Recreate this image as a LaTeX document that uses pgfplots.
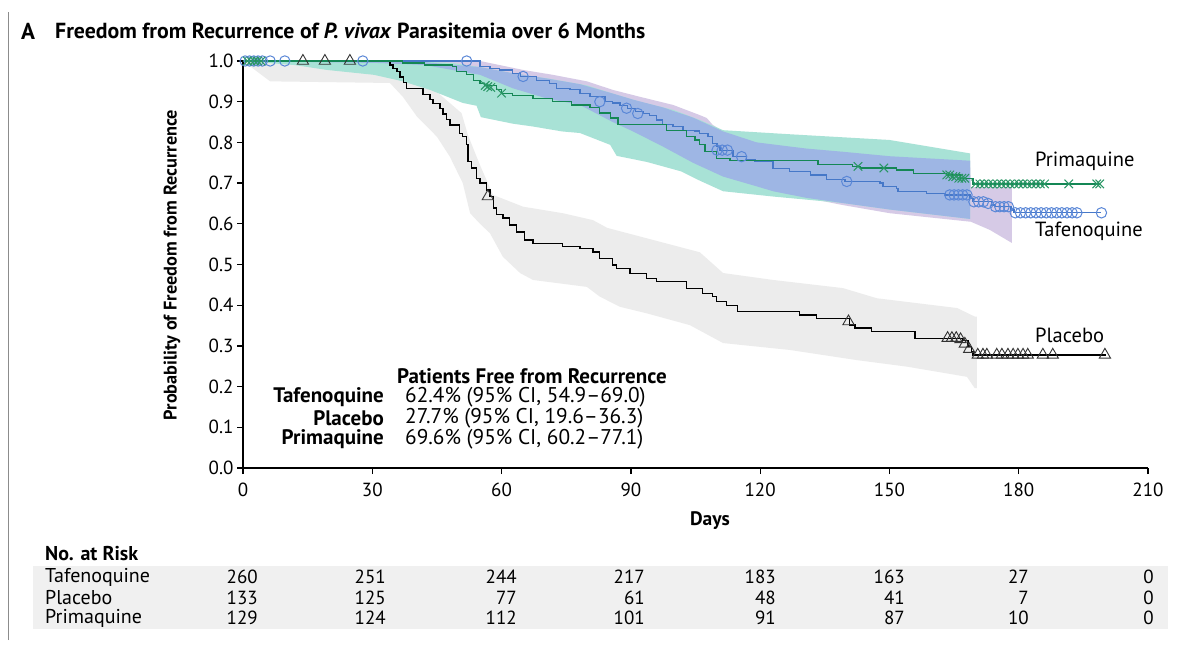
\documentclass[border=0pt]{standalone}
\usepackage{fontspec}
\setmainfont{PT Sans}
\usepackage{pgfplots}
\pgfplotsset{compat=1.18}
\definecolor{grayband}{RGB}{236,236,236}
\definecolor{purpleband}{RGB}{214,202,230}
\definecolor{tealband}{RGB}{168,226,214}
\definecolor{blueband}{RGB}{158,182,228}
\definecolor{tafline}{RGB}{70,120,200}
\definecolor{tafmark}{RGB}{90,135,215}
\definecolor{primline}{RGB}{20,135,85}
\definecolor{primmark}{RGB}{40,150,100}
\definecolor{tablebg}{RGB}{240,240,240}
\newcommand{\fs}[1]{\fontsize{#1}{#1}\selectfont}
\begin{document}
\begin{tikzpicture}
\useasboundingbox (0pt,0pt) rectangle (1204pt,646pt);
\fill[white] (0pt,0pt) rectangle (1204pt,646pt);
\draw[black!45, line width=1pt] (8pt,6pt) -- (8pt,634pt);
\node[anchor=west, inner sep=0pt, font=\fs{23}\bfseries] at (21pt,615pt) {A};
\node[anchor=west, inner sep=0pt, font=\fs{21.8}\bfseries] at (55pt,615pt) {Freedom from Recurrence of \textit{P. vivax} Parasitemia over 6 Months};
\node[rotate=90, font=\fs{18.3}\bfseries] at (172pt,381pt) {Probability of Freedom from Recurrence};
\node[font=\fs{19.5}\bfseries] at (710pt,125pt) {Days};
% annotations
\node[anchor=west, inner sep=0pt, font=\fs{20.5}] at (1035pt,485pt) {Primaquine};
\node[anchor=west, inner sep=0pt, font=\fs{20.5}] at (1035pt,415pt) {Tafenoquine};
\node[anchor=west, inner sep=0pt, font=\fs{20.5}] at (1035pt,311pt) {Placebo};
% inner block
\node[anchor=west, inner sep=0pt, font=\fs{21}\bfseries] at (397pt,270pt) {Patients Free from Recurrence};
\node[anchor=east, inner sep=0pt, font=\fs{21}\bfseries] at (384pt,249pt) {Tafenoquine};
\node[anchor=east, inner sep=0pt, font=\fs{21}\bfseries] at (384pt,228pt) {Placebo};
\node[anchor=east, inner sep=0pt, font=\fs{21}\bfseries] at (384pt,207pt) {Primaquine};
\node[anchor=west, inner sep=0pt, font=\fs{21.3}] at (405pt,249pt) {62.4\% (95\% CI, 54.9–69.0)};
\node[anchor=west, inner sep=0pt, font=\fs{21.3}] at (405pt,228pt) {27.7\% (95\% CI, 19.6–36.3)};
\node[anchor=west, inner sep=0pt, font=\fs{21.3}] at (405pt,207pt) {69.6\% (95\% CI, 60.2–77.1)};
% at risk table
\node[anchor=west, inner sep=0pt, font=\fs{20}\bfseries] at (45pt,92pt) {No. at Risk};
\fill[tablebg] (33pt,17pt) rectangle (1168pt,80pt);
\foreach \lab/\yy in {Tafenoquine/69, Placebo/48, Primaquine/28}{
  \node[anchor=west, inner sep=0pt, font=\fs{20}] at (45pt,\yy pt) {\lab};
}
\foreach \xx/\a/\b/\c in {258/260/133/129, 386/251/125/124, 517/244/77/112, 645/217/61/101, 776/183/48/91, 905/163/41/87, 1029/27/7/10, 1154/0/0/0}{
  \node[anchor=east, inner sep=0pt, font=\fs{19}] at (\xx pt,69pt) {\a};
  \node[anchor=east, inner sep=0pt, font=\fs{19}] at (\xx pt,48pt) {\b};
  \node[anchor=east, inner sep=0pt, font=\fs{19}] at (\xx pt,28pt) {\c};
}
\begin{axis}[at={(243pt,178pt)}, anchor=south west,
  width=905pt, height=407pt, scale only axis,
  xmin=0, xmax=210, ymin=0, ymax=1,
  axis lines*=left,
  xtick={0,30,60,90,120,150,180,210},
  ytick={0,0.1,0.2,0.3,0.4,0.5,0.6,0.7,0.8,0.9,1.0},
  tick align=outside, major tick length=6pt,
  axis line style={line width=1.3pt, black},
  tick style={line width=1.3pt, black},
  ticklabel style={font=\fs{19}},
  xticklabel style={yshift=-5pt},
  /pgf/number format/assume math mode=true,
  yticklabel={\pgfmathprintnumber[fixed,fixed zerofill,precision=1]{\tick}},
  clip=false]
% placebo band
\addplot[fill=grayband, draw=none] coordinates {
(0,1.0)(34.1,1.0)(36.4,0.99)(39.9,0.96)(44,0.933)(50.7,0.872)(52.2,0.818)(55,0.744)(58,0.671)(65,0.642)(74.2,0.626)(81.2,0.609)(84.5,0.59)(106,0.53)(111.4,0.479)(123,0.462)(139.2,0.442)(147.1,0.417)(165.7,0.393)(169.8,0.372)(170.3,0.372)
(170.3,0.196)(169.8,0.196)(168,0.224)(154.1,0.249)(142.5,0.265)(126.9,0.29)(111.4,0.307)(103.7,0.351)(93.7,0.38)(87.5,0.396)(82.8,0.421)(79.8,0.445)(67.3,0.462)(64.3,0.479)(60.3,0.519)(57.3,0.577)(55,0.6)(52.7,0.626)(51,0.7)(48,0.765)(45,0.814)(40.4,0.863)(37.1,0.912)(34.1,0.946)(6.3,0.95)(0,1.0)};
% tafenoquine band
\addplot[fill=purpleband, draw=none] coordinates {
(0,1)(55,1)(65,0.978)(71.9,0.966)(79.8,0.95)(85.8,0.929)(92.1,0.912)(99.8,0.892)(106,0.867)(107.6,0.86)(109,0.843)(111.4,0.827)(119.2,0.80)(130.6,0.785)(142.2,0.775)(153.8,0.765)(168.7,0.755)(168.9,0.69)(178.4,0.69)
(178.4,0.553)(173.3,0.585)(168.9,0.605)(150.1,0.626)(139.2,0.646)(123,0.68)(111.4,0.716)(104.4,0.75)(97.4,0.79)(90.5,0.827)(85.8,0.85)(78.2,0.892)(70.5,0.908)(62.6,0.933)(55,0.966)(42.2,0.99)(31.8,0.995)(0,1)};
% primaquine band
\addplot[fill=tealband, draw=none] coordinates {
(0,1)(37.1,1)(48.7,0.995)(55,0.985)(62.6,0.97)(71.9,0.955)(79.8,0.94)(85.8,0.92)(92.1,0.90)(99.8,0.88)(106,0.855)(111.4,0.83)(126.9,0.82)(150,0.806)(168.7,0.773)
(168.7,0.612)(150.1,0.635)(139.2,0.651)(123,0.667)(111.4,0.68)(106,0.706)(101.6,0.729)(93.7,0.752)(86.7,0.767)(85.2,0.794)(78.2,0.823)(74,0.827)(67.3,0.839)(62.6,0.846)(55.2,0.862)(54.2,0.89)(51,0.897)(43.4,0.929)(37.1,0.95)(30.4,0.966)(19.5,0.978)(12,0.99)(0,1)};
% overlap of the two bands
\addplot[fill=blueband, draw=none] coordinates {
(0,1)(31.8,1)(42.2,0.997)(55,0.985)(62.6,0.97)(70.5,0.957)(78.2,0.943)(85.8,0.92)(90.5,0.905)(97.4,0.886)(104.4,0.861)(111.4,0.827)(119.2,0.80)(123,0.795)(130.6,0.785)(139.2,0.777)(150.1,0.766)(168.7,0.755)
(168.7,0.612)(150.1,0.635)(139.2,0.651)(130.6,0.664)(123,0.68)(119.2,0.692)(111.4,0.716)(104.4,0.75)(97.4,0.79)(90.5,0.827)(85.8,0.85)(78.2,0.892)(70.5,0.908)(62.6,0.933)(55,0.966)(42.2,0.99)(31.8,0.995)(0,1)};
% placebo curve
\addplot[const plot, black, line width=1.3pt] coordinates {
(0,1.000)(34.1,0.990)(34.8,0.982)(35.7,0.974)(36.4,0.961)(37.2,0.947)(38.0,0.933)(41.8,0.918)(43.4,0.905)(44.1,0.895)(45.7,0.883)(46.4,0.870)(47.2,0.857)(48.0,0.843)(50.3,0.822)(51.0,0.814)(51.9,0.795)(52.2,0.753)(53.1,0.737)(54.2,0.712)(55.0,0.700)(56.5,0.683)(57.3,0.667)(58.1,0.639)(58.9,0.622)(60.3,0.614)(61.9,0.597)(63.5,0.580)(65.4,0.560)(67.3,0.552)(74.2,0.544)(78.2,0.540)(81.2,0.531)(82.8,0.515)(85.8,0.499)(86.7,0.490)(89.8,0.478)(93.7,0.466)(96.0,0.458)(102.9,0.441)(106.7,0.429)(109.0,0.421)(109.9,0.409)(112.2,0.400)(114.8,0.384)(129.2,0.376)(133.1,0.368)(140.8,0.351)(142.0,0.344)(145.9,0.335)(155.9,0.319)(167.1,0.314)(168.2,0.298)(169.1,0.286)(169.4,0.278)(200.2,0.278)};
% tafenoquine curve
\addplot[const plot, tafline, line width=1.2pt] coordinates {
(0,1.0)(55.0,0.986)(57.3,0.982)(59.6,0.978)(62.6,0.970)(64.3,0.962)(68.1,0.953)(71.2,0.945)(72.8,0.933)(75.9,0.929)(78.2,0.920)(80.5,0.912)(84.0,0.900)(85.8,0.897)(87.5,0.890)(89.3,0.884)(91.0,0.876)(92.8,0.871)(94.4,0.867)(96.0,0.855)(97.4,0.843)(99.8,0.839)(102.1,0.830)(104.9,0.828)(106.0,0.822)(107.9,0.815)(109.0,0.798)(110.0,0.790)(110.7,0.781)(113.7,0.765)(116.9,0.757)(118.8,0.753)(123.0,0.736)(126.9,0.729)(131.6,0.720)(135.4,0.708)(139.7,0.704)(147.8,0.700)(148.5,0.691)(151.7,0.687)(152.0,0.679)(158.6,0.675)(162.9,0.671)(168.7,0.663)(169.4,0.654)(173.7,0.646)(174.5,0.642)(178.2,0.634)(178.9,0.627)(199.2,0.627)};
% primaquine curve
\addplot[const plot, primline, line width=1.2pt] coordinates {
(0,1.0)(37.1,0.995)(42.2,0.990)(48.7,0.986)(49.6,0.974)(51.9,0.966)(53.4,0.953)(55.0,0.945)(56.1,0.940)(58.9,0.929)(60.0,0.921)(62.6,0.916)(67.3,0.908)(71.9,0.900)(76.3,0.892)(80.5,0.885)(82.8,0.872)(85.2,0.860)(87.0,0.843)(98.3,0.830)(102.9,0.814)(104.9,0.806)(106.0,0.794)(107.2,0.778)(109.9,0.761)(113.0,0.755)(133.4,0.745)(141.5,0.741)(143.2,0.737)(151.7,0.732)(155.5,0.724)(163.3,0.720)(166.4,0.712)(169.4,0.698)(198.8,0.698)};
% censor marks
\addplot[only marks, mark=triangle, mark size=6.5pt, black!80, mark options={line width=0.9pt}] coordinates {
(13.9,1.0)(19.0,1.0)(24.8,1.0)(56.8,0.667)(140.5,0.36)(163.5,0.319)(164.5,0.319)(165.5,0.319)(166.5,0.316)(167.5,0.305)(168.5,0.292)
(170.5,0.278)(171.7,0.278)(172.6,0.278)(174.9,0.278)(176.1,0.278)(177.5,0.278)(178.7,0.278)(179.8,0.278)(181.0,0.278)(182.1,0.278)(185.6,0.278)(187.9,0.278)(200.0,0.278)};
\addplot[only marks, mark=o, mark size=5.2pt, tafmark, mark options={line width=1pt}] coordinates {
(0.5,1.0)(1.5,1.0)(2.5,1.0)(3.5,1.0)(4.5,1.0)(6.3,1.0)(9.7,1.0)(27.8,1.0)(51.9,1.0)(65.0,0.962)(82.8,0.900)(89.0,0.884)(91.6,0.871)(110.0,0.781)(111.2,0.781)(112.4,0.781)(115.7,0.765)(140.1,0.704)
(164.0,0.671)(165.0,0.671)(166.0,0.671)(167.0,0.671)(168.0,0.671)(169.6,0.654)(170.7,0.654)(171.8,0.654)(172.9,0.650)(174.6,0.642)(175.6,0.642)(176.6,0.642)(177.6,0.642)
(179.2,0.627)(180.4,0.627)(181.6,0.627)(182.8,0.627)(184.0,0.627)(185.2,0.627)(186.4,0.627)(187.6,0.627)(188.8,0.627)(190.0,0.627)(191.2,0.627)(192.4,0.627)(193.5,0.627)(199.2,0.627)};
\addplot[only marks, mark=x, mark size=6pt, primmark, mark options={line width=1pt}] coordinates {
(1.0,1.0)(1.8,1.0)(2.6,1.0)(3.4,1.0)(4.2,1.0)(56.2,0.94)(56.8,0.937)(57.5,0.935)(60.0,0.921)(142.7,0.741)(148.7,0.737)
(163.3,0.720)(164.0,0.720)(164.7,0.716)(165.4,0.716)(166.1,0.712)(166.8,0.712)(167.5,0.712)
(170,0.698)(171,0.698)(172,0.698)(173,0.698)(174,0.698)(175,0.698)(176,0.698)(177,0.698)(178,0.698)(179,0.698)(180,0.698)(181,0.698)(182,0.698)(183,0.698)(184,0.698)(185,0.698)(186,0.698)(191.6,0.698)(198.1,0.698)(198.8,0.698)};
\end{axis}
\end{tikzpicture}
\end{document}
